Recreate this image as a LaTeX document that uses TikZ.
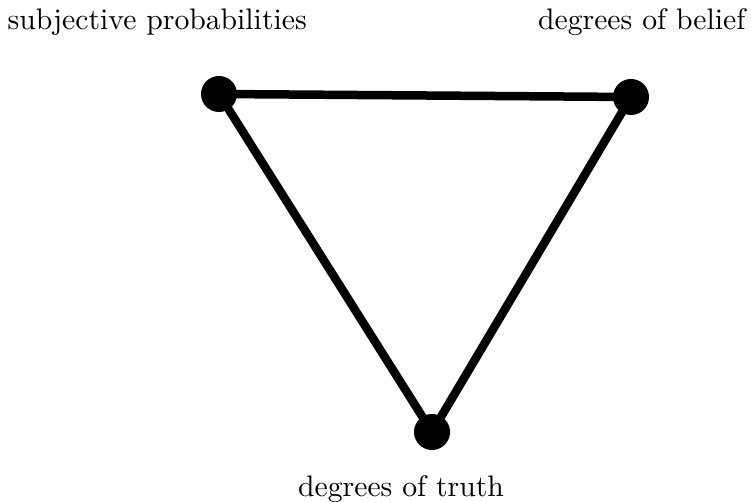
\documentclass[tikz,border=0pt]{standalone}
\usepackage{tikz}
\usetikzlibrary{positioning}
\tikzset{
  vertex/.style={circle, fill=black, inner sep=0pt, minimum size=36pt},
  edge/.style={line width=8.5pt},
  vlabel/.style={inner sep=0pt, font=\fontsize{10}{12}\selectfont, scale=2.97, transform shape}
}
\begin{document}
\begin{tikzpicture}[x=1pt,y=1pt]
  \path[use as bounding box] (0,0) rectangle (751,502);
  \fill[white] (0,0) rectangle (751,502);
  % vertices
  \node[vertex] (subj) at (219,408) {};
  \node[vertex] (belief) at (631,405) {};
  \node[vertex] (truth) at (432,70) {};
  % edges
  \draw[edge] (subj.center) -- (belief.center) -- (truth.center) -- cycle;
  % labels
  \node[vlabel, anchor=base west] (subjlabel) at (7,472) {subjective probabilities};
  \node[vlabel, anchor=base east] (belieflabel) at (746,472) {degrees of belief};
  \node[vlabel, anchor=base] (truthlabel) at (401,5) {degrees of truth};
\end{tikzpicture}
\end{document}
